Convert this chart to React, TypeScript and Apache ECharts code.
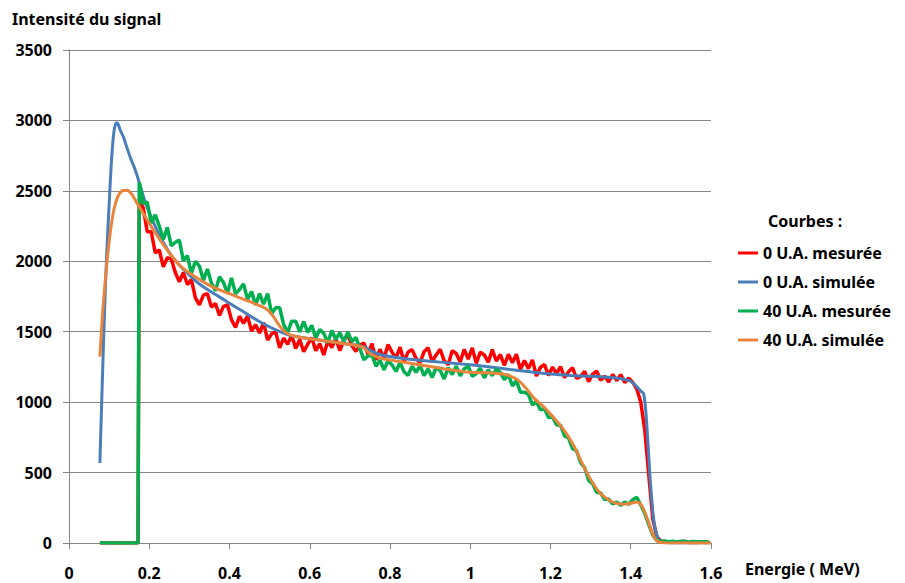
import React, { useEffect, useRef } from "react";
import * as echarts from "echarts";

const seriesNames = ["0 U.A. mesurée", "0 U.A. simulée", "40 U.A. mesurée", "40 U.A. simulée"];
const seriesColors = ["#FF0000", "#4A7EBB", "#00B050", "#E8843C"];

const xTickLabels = ["0", "0.2", "0.4", "0.6", "0.8", "1", "1.2", "1.4", "1.6"];
const yTickLabels = ["0", "500", "1000", "1500", "2000", "2500", "3000", "3500"];

// measured spectra: lead-in (zero) points then channels every 0.01 MeV from 0.175 MeV
const measuredLeadE = [0.077, 0.172];
const measuredLeadV = [0, 0];
const measuredStartE = 0.175;
const measuredStepE = 0.01;

const redMeasured = [
  2420, 2380, 2210, 2210, 2060, 2080, 1960, 2025, 2015, 1920,
  1855, 1920, 1835, 1870, 1740, 1690, 1760, 1770, 1675, 1700,
  1615, 1680, 1690, 1585, 1530, 1610, 1560, 1610, 1505, 1550,
  1490, 1565, 1440, 1485, 1500, 1385, 1455, 1410, 1475, 1380,
  1445, 1358, 1412, 1458, 1365, 1415, 1335, 1435, 1388, 1452,
  1365, 1442, 1480, 1400, 1360, 1405, 1420, 1340, 1415, 1300,
  1375, 1310, 1408, 1355, 1313, 1390, 1288, 1355, 1373, 1310,
  1280, 1358, 1387, 1286, 1335, 1375, 1295, 1265, 1365, 1345,
  1285, 1375, 1305, 1385, 1275, 1355, 1335, 1284, 1373, 1292,
  1338, 1260, 1340, 1280, 1340, 1232, 1295, 1238, 1300, 1185,
  1248, 1267, 1190, 1249, 1202, 1252, 1174, 1216, 1244, 1168,
  1182, 1219, 1145, 1199, 1221, 1155, 1185, 1143, 1196, 1154,
  1195, 1140, 1170, 1140, 1095, 1000, 800, 480, 170, 45,
  15, 8, 5, 9, 4, 7, 12, 3, 6, 4,
  8, 3, 5,
];

const greenMeasured = [
  2560, 2410, 2420, 2270, 2330, 2250, 2155, 2240, 2110, 2135,
  2150, 2005, 2040, 1915, 2000, 1965, 1865, 1945, 1845, 1790,
  1890, 1850, 1772, 1882, 1770, 1800, 1840, 1730, 1785, 1690,
  1770, 1695, 1770, 1630, 1670, 1670, 1550, 1495, 1575, 1575,
  1498, 1572, 1495, 1545, 1455, 1515, 1488, 1422, 1508, 1445,
  1493, 1430, 1498, 1430, 1460, 1380, 1300, 1330, 1335, 1255,
  1298, 1230, 1292, 1265, 1218, 1282, 1216, 1190, 1256, 1212,
  1260, 1188, 1236, 1175, 1244, 1224, 1164, 1245, 1196, 1256,
  1186, 1236, 1255, 1184, 1203, 1242, 1172, 1230, 1188, 1235,
  1210, 1160, 1195, 1115, 1155, 1070, 1070, 1055, 980, 1005,
  945, 955, 890, 895, 840, 835, 760, 745, 670, 655,
  570, 535, 445, 420, 360, 355, 308, 312, 278, 290,
  268, 290, 275, 307, 325, 270, 210, 130, 55, 18,
  10, 14, 9, 12, 8, 13, 10, 7, 11, 9,
  8, 10, 6,
];

const blueE = [
  0.077, 0.082, 0.088, 0.094, 0.1, 0.106, 0.112, 0.118, 0.122, 0.128,
  0.136, 0.144, 0.155, 0.165, 0.175, 0.19, 0.21, 0.23, 0.26, 0.29,
  0.32, 0.35, 0.39, 0.43, 0.47, 0.51, 0.55, 0.6, 0.65, 0.7,
  0.725, 0.74, 0.755, 0.78, 0.82, 0.88, 0.95, 1.0, 1.05, 1.1,
  1.15, 1.2, 1.25, 1.3, 1.35, 1.38, 1.4, 1.415, 1.425, 1.432,
  1.437, 1.442, 1.448, 1.455, 1.46, 1.467, 1.475, 1.49, 1.52, 1.6,
];
const blueV = [
  568, 1050, 1600, 2050, 2400, 2720, 2920, 2984, 2975, 2930,
  2880, 2810, 2720, 2650, 2560, 2420, 2280, 2160, 2020, 1930,
  1850, 1790, 1720, 1650, 1580, 1520, 1475, 1450, 1430, 1410,
  1400, 1385, 1360, 1335, 1315, 1295, 1278, 1265, 1250, 1232,
  1215, 1200, 1190, 1183, 1175, 1165, 1148, 1110, 1078, 1060,
  950, 750, 470, 220, 116, 40, 8, 2, 0, 0,
];

const orangeE = [
  0.077, 0.083, 0.09, 0.097, 0.105, 0.113, 0.122, 0.132, 0.145, 0.158,
  0.17, 0.185, 0.2, 0.22, 0.25, 0.28, 0.32, 0.36, 0.4, 0.44,
  0.48, 0.495, 0.51, 0.525, 0.54, 0.56, 0.6, 0.65, 0.7, 0.72,
  0.735, 0.745, 0.76, 0.78, 0.82, 0.88, 0.95, 1.0, 1.05, 1.08,
  1.1, 1.12, 1.14, 1.16, 1.18, 1.2, 1.22, 1.24, 1.26, 1.28,
  1.3, 1.32, 1.34, 1.36, 1.38, 1.4, 1.415, 1.425, 1.435, 1.445,
  1.455, 1.465, 1.475, 1.49, 1.52, 1.6,
];
const orangeV = [
  1323, 1600, 1850, 2060, 2250, 2380, 2460, 2500, 2505, 2470,
  2410, 2340, 2270, 2180, 2060, 1960, 1880, 1815, 1770, 1725,
  1680, 1655, 1605, 1540, 1495, 1470, 1450, 1430, 1410, 1400,
  1385, 1355, 1330, 1310, 1290, 1262, 1230, 1212, 1207, 1200,
  1185, 1155, 1095, 1025, 975, 915, 850, 775, 680, 560,
  450, 365, 315, 285, 275, 282, 291, 275, 220, 140,
  60, 15, 3, 0, 0, 0,
];

const FONT = "'Noto Sans', 'DejaVu Sans', sans-serif";

function measuredData(values: number[]) {
  const lead = measuredLeadE.map((e, i) => [e, measuredLeadV[i]]);
  const body = values.map((v, i) => [+(measuredStartE + i * measuredStepE).toFixed(3), v]);
  return [...lead, ...body];
}

function pairData(es: number[], vs: number[]) {
  return es.map((e, i) => [e, vs[i]]);
}

export default function App() {
  const ref = useRef<HTMLDivElement>(null);

  useEffect(() => {
    if (!ref.current) return;
    const chart = echarts.init(ref.current, undefined, { renderer: "svg" });
    const lineSeries = (idx: number, data: number[][], smooth: number | boolean, width: number) => ({
      name: seriesNames[idx],
      type: "line",
      data,
      showSymbol: false,
      symbol: "none",
      smooth,
      lineStyle: { color: seriesColors[idx], width },
      itemStyle: { color: seriesColors[idx] },
      emphasis: { disabled: true },
      z: 2 + idx,
    });

    chart.setOption({
      animation: false,
      backgroundColor: "#ffffff",
      textStyle: { fontFamily: FONT },
      grid: { left: 69, right: 194, top: 50, bottom: 40, containLabel: false },
      xAxis: {
        type: "value",
        min: 0,
        max: 1.6,
        interval: 0.2,
        axisLine: { show: true, lineStyle: { color: "#868686", width: 1 } },
        axisTick: { show: true, length: 6, lineStyle: { color: "#868686" } },
        splitLine: { show: false },
        axisLabel: {
          margin: 22,
          color: "#000",
          fontFamily: FONT,
          fontWeight: "bold",
          fontSize: 16,
          lineHeight: 16,
          formatter: (v: number) => xTickLabels[Math.round(v / 0.2)] ?? String(v),
        },
      },
      yAxis: {
        type: "value",
        min: 0,
        max: 3500,
        interval: 500,
        axisLine: { show: true, lineStyle: { color: "#868686", width: 1 } },
        axisTick: { show: true, length: 6, lineStyle: { color: "#868686" } },
        splitLine: { show: true, lineStyle: { color: "#868686", width: 1 } },
        axisLabel: {
          margin: 17,
          color: "#000",
          fontFamily: FONT,
          fontWeight: "bold",
          fontSize: 16,
          formatter: (v: number) => yTickLabels[Math.round(v / 500)] ?? String(v),
        },
      },
      legend: {
        orient: "vertical",
        left: 738,
        top: 245,
        padding: 0,
        itemWidth: 20,
        itemHeight: 3,
        itemGap: 13,
        icon: "rect",
        data: seriesNames,
        selectedMode: false,
        textStyle: { color: "#000", fontFamily: FONT, fontWeight: "bold", fontSize: 16, lineHeight: 16 },
      },
      graphic: [
        {
          type: "text",
          left: 12,
          top: 11,
          style: { text: "Intensité du signal", fill: "#000", font: `bold 16px ${FONT}` },
        },
        {
          type: "text",
          left: 745,
          top: 561,
          style: { text: "Energie ( MeV)", fill: "#000", font: `bold 16px ${FONT}` },
        },
        {
          type: "text",
          left: 768,
          top: 213,
          style: { text: "Courbes :", fill: "#000", font: `bold 16px ${FONT}` },
        },
      ],
      series: [
        lineSeries(0, measuredData(redMeasured), false, 3.5),
        lineSeries(1, pairData(blueE, blueV), 0.3, 3),
        lineSeries(2, measuredData(greenMeasured), false, 3.5),
        lineSeries(3, pairData(orangeE, orangeV), 0.3, 3),
      ],
    });
    return () => chart.dispose();
  }, []);

  return (
    <div
      ref={ref}
      style={{ position: "absolute", left: 0, top: 0, width: 905, height: 583, background: "#fff" }}
    />
  );
}
